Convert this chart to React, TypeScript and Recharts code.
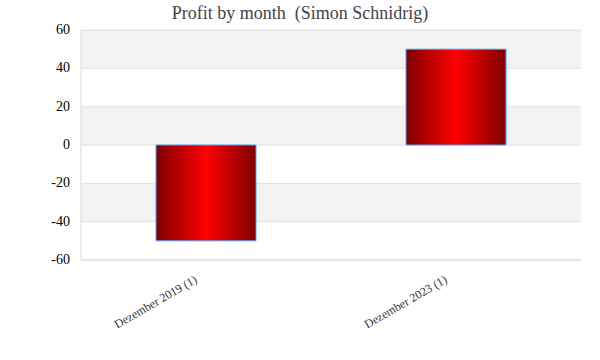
import React from 'react';
import { BarChart, Bar, XAxis, YAxis, CartesianGrid } from 'recharts';

const months = ['Dezember 2019 (1)', 'Dezember 2023 (1)'];
const profit = [-50, 50];
const yTicks = [-60, -40, -20, 0, 20, 40, 60];

const data = months.map((m, i) => ({ month: m, profit: profit[i] }));

const FONT = '"Liberation Serif", "DejaVu Serif", serif';

const XTick = (props: any) => {
  const { x, y, payload } = props;
  return (
    <g transform={`translate(${x - 8},${y + 14})`}>
      <text
        x={0}
        y={0}
        textAnchor="end"
        transform="rotate(-30)"
        fontFamily={FONT}
        fontSize={12}
        fill="#333"
      >
        {payload.value}
      </text>
    </g>
  );
};

const YTick = (props: any) => {
  const { x, y, payload } = props;
  return (
    <text
      x={x}
      y={y}
      dy={4}
      textAnchor="end"
      fontFamily={FONT}
      fontSize={14}
      fill="#000"
    >
      {payload.value}
    </text>
  );
};

export default function App() {
  return (
    <div style={{ position: 'absolute', left: 0, top: 0, width: 600, height: 360, background: '#fff' }}>
      <div
        style={{
          position: 'absolute',
          left: 0,
          top: 3,
          width: 600,
          textAlign: 'center',
          fontFamily: FONT,
          fontSize: 18,
          color: '#444',
        }}
      >
        Profit by month&nbsp; (Simon Schnidrig)
      </div>
      <BarChart
        width={600}
        height={360}
        data={data}
        margin={{ top: 30, right: 19, left: 0, bottom: 10 }}
      >
        <defs>
          <linearGradient id="barGrad" x1="0" y1="0" x2="1" y2="0">
            <stop offset="0%" stopColor="#7f0000" />
            <stop offset="50%" stopColor="#ff0000" />
            <stop offset="100%" stopColor="#7f0000" />
          </linearGradient>
        </defs>
        <CartesianGrid
          vertical={false}
          stroke="#e0e0e0"
          horizontalFill={['#f2f2f2', '#ffffff']}
        />
        <XAxis
          dataKey="month"
          height={90}
          interval={0}
          tickLine={false}
          axisLine={{ stroke: '#d9d9d9' }}
          tick={<XTick />}
        />
        <YAxis
          width={81}
          domain={[-60, 60]}
          ticks={yTicks}
          tickLine={false}
          axisLine={{ stroke: '#d9d9d9' }}
          tick={<YTick />}
          tickMargin={5}
        />
        <Bar
          dataKey="profit"
          fill="url(#barGrad)"
          stroke="#4da3ff"
          strokeWidth={1}
          barSize={100}
          isAnimationActive={false}
        />
      </BarChart>
    </div>
  );
}
